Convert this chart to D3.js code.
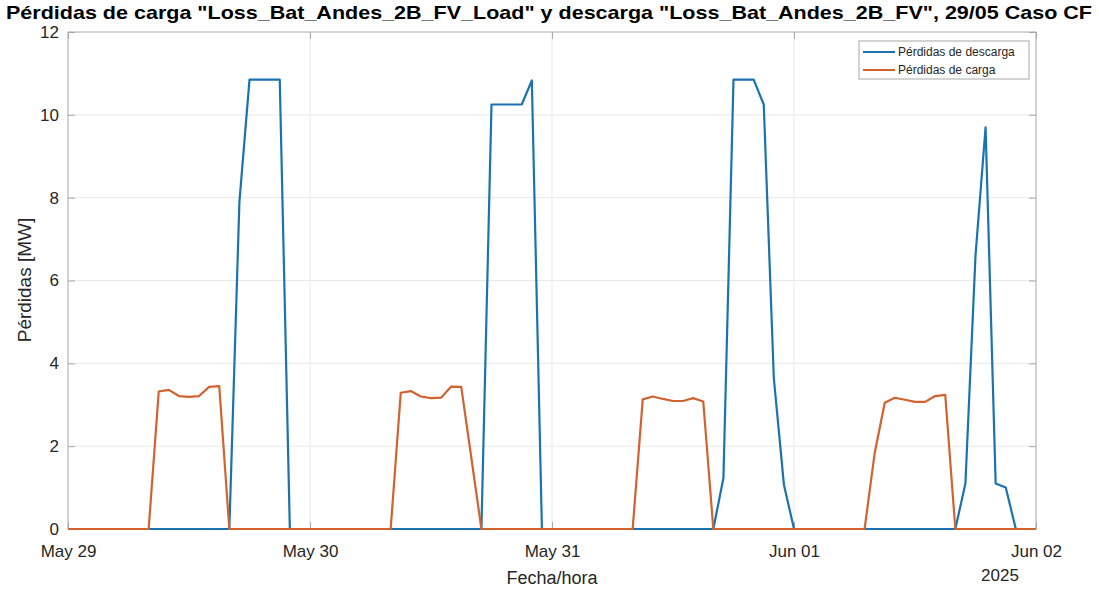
<!DOCTYPE html>
<html>
<head>
<meta charset="utf-8">
<script src="https://cdn.jsdelivr.net/npm/d3@7"></script>
<style>
  body { margin: 0; background: #fff; }
  svg { font-family: "Liberation Sans", Arial, sans-serif; }
</style>
</head>
<body>
<svg width="1099" height="590"></svg>
<script>
// hourly values, May 29 00:00 -> Jun 02 00:00 (97 points)
const descarga = [
    0, 0, 0, 0, 0, 0, 0, 0, 0, 0, 0, 0, 0, 0, 0, 0, 0, 7.9, 10.85, 10.85, 10.85, 10.85, 0, 0,
    0, 0, 0, 0, 0, 0, 0, 0, 0, 0, 0, 0, 0, 0, 0, 0, 0, 0, 10.25, 10.25, 10.25, 10.25, 10.83, 0,
    0, 0, 0, 0, 0, 0, 0, 0, 0, 0, 0, 0, 0, 0, 0, 0, 0, 1.23, 10.85, 10.85, 10.85, 10.25, 3.64, 1.07,
    0, 0, 0, 0, 0, 0, 0, 0, 0, 0, 0, 0, 0, 0, 0, 0, 0, 1.1, 6.6, 9.7, 1.1, 1.0, 0, 0,
    0
];
const carga = [
    0, 0, 0, 0, 0, 0, 0, 0, 0, 3.32, 3.36, 3.21, 3.19, 3.21, 3.43, 3.45, 0, 0, 0, 0, 0, 0, 0, 0,
    0, 0, 0, 0, 0, 0, 0, 0, 0, 3.29, 3.33, 3.2, 3.16, 3.17, 3.44, 3.43, 1.72, 0, 0, 0, 0, 0, 0, 0,
    0, 0, 0, 0, 0, 0, 0, 0, 0, 3.13, 3.2, 3.14, 3.09, 3.09, 3.16, 3.08, 0, 0, 0, 0, 0, 0, 0, 0,
    0, 0, 0, 0, 0, 0, 0, 0, 1.83, 3.05, 3.17, 3.12, 3.07, 3.07, 3.21, 3.24, 0, 0, 0, 0, 0, 0, 0, 0,
    0
];
const seriesNames = ["Pérdidas de descarga", "Pérdidas de carga"];
const yTicks = [0, 2, 4, 6, 8, 10, 12];
const start = new Date(2025, 4, 29);
const end = new Date(2025, 5, 2);

var svg = d3.select("svg");
const x0 = 68, x1 = 1036, y0 = 32, y1 = 529;
const colors = ["#1a73b0", "#d0632f"];

var x = d3.scaleTime().domain([start, end]).range([x0, x1]);
var y = d3.scaleLinear().domain([0, 12]).range([y1, y0]);
const hour = i => d3.timeHour.offset(start, i);

// grid
svg.append("g").selectAll("line")
    .data(yTicks.slice(1, -1))
    .enter().append("line")
    .attr("x1", x0).attr("x2", x1)
    .attr("y1", d => y(d)).attr("y2", d => y(d))
    .attr("stroke", "#e9e9e9");
svg.append("g").selectAll("line")
    .data(x.ticks(d3.timeDay.every(1)).slice(1, -1))
    .enter().append("line")
    .attr("x1", d => x(d)).attr("x2", d => x(d))
    .attr("y1", y0).attr("y2", y1)
    .attr("stroke", "#e9e9e9");

// axes
svg.append("g")
    .attr("transform", `translate(0,${y1})`)
    .call(d3.axisBottom(x).ticks(d3.timeDay.every(1)).tickFormat(d3.timeFormat("%b %d")).tickSizeInner(-7).tickSizeOuter(0).tickPadding(16));
svg.append("g")
    .attr("transform", `translate(${x0},0)`)
    .call(d3.axisLeft(y).tickValues(yTicks).tickSizeInner(-7).tickSizeOuter(0).tickPadding(9));
svg.append("g")
    .attr("transform", `translate(${x1},0)`)
    .call(d3.axisRight(y).tickValues(yTicks).tickSizeInner(-7).tickSizeOuter(0).tickFormat(""));
svg.append("g")
    .attr("transform", `translate(0,${y0})`)
    .call(d3.axisTop(x).ticks(d3.timeDay.every(1)).tickSizeInner(-7).tickSizeOuter(0).tickFormat(""));
svg.selectAll(".tick line").attr("stroke", "#a8a8a8");
svg.selectAll(".tick text").attr("fill", "#262626").attr("font-size", 17);
svg.selectAll(".domain").remove();
svg.append("rect")
    .attr("x", x0).attr("y", y0)
    .attr("width", x1 - x0).attr("height", y1 - y0)
    .attr("fill", "none").attr("stroke", "#a8a8a8");

// lines
var line = d3.line().x((d, i) => x(hour(i))).y(d => y(d));
[descarga, carga].forEach((s, k) => {
    svg.append("path")
        .datum(s)
        .attr("d", line)
        .attr("fill", "none")
        .attr("stroke", colors[k])
        .attr("stroke-width", 2.2)
        .attr("stroke-linejoin", "round");
});

// labels
svg.append("text")
    .attr("x", 549).attr("y", 19)
    .attr("text-anchor", "middle")
    .attr("font-size", 19).attr("font-weight", "bold")
    .attr("textLength", 1086).attr("lengthAdjust", "spacingAndGlyphs")
    .text("Pérdidas de carga \"Loss_Bat_Andes_2B_FV_Load\" y descarga \"Loss_Bat_Andes_2B_FV\", 29/05 Caso CF");
svg.append("text")
    .attr("x", 552).attr("y", 584)
    .attr("text-anchor", "middle")
    .attr("font-size", 18).attr("fill", "#262626")
    .text("Fecha/hora");
svg.append("text")
    .attr("x", 1000).attr("y", 581)
    .attr("text-anchor", "middle")
    .attr("font-size", 17).attr("fill", "#262626")
    .text("2025");
svg.append("text")
    .attr("transform", "translate(31,280) rotate(-90)")
    .attr("text-anchor", "middle")
    .attr("font-size", 19).attr("fill", "#262626")
    .text("Pérdidas [MW]");

// legend
var lg = svg.append("g");
lg.append("rect")
    .attr("x", 859).attr("y", 41).attr("width", 170).attr("height", 38)
    .attr("fill", "#fff").attr("stroke", "#a8a8a8");
seriesNames.forEach((name, k) => {
    var ly = 52 + k * 18;
    lg.append("line")
        .attr("x1", 863).attr("x2", 895)
        .attr("y1", ly).attr("y2", ly)
        .attr("stroke", colors[k]).attr("stroke-width", 2);
    lg.append("text")
        .attr("x", 898).attr("y", ly + 4)
        .attr("font-size", 12).attr("fill", "#262626")
        .text(name);
});
</script>
</body>
</html>
